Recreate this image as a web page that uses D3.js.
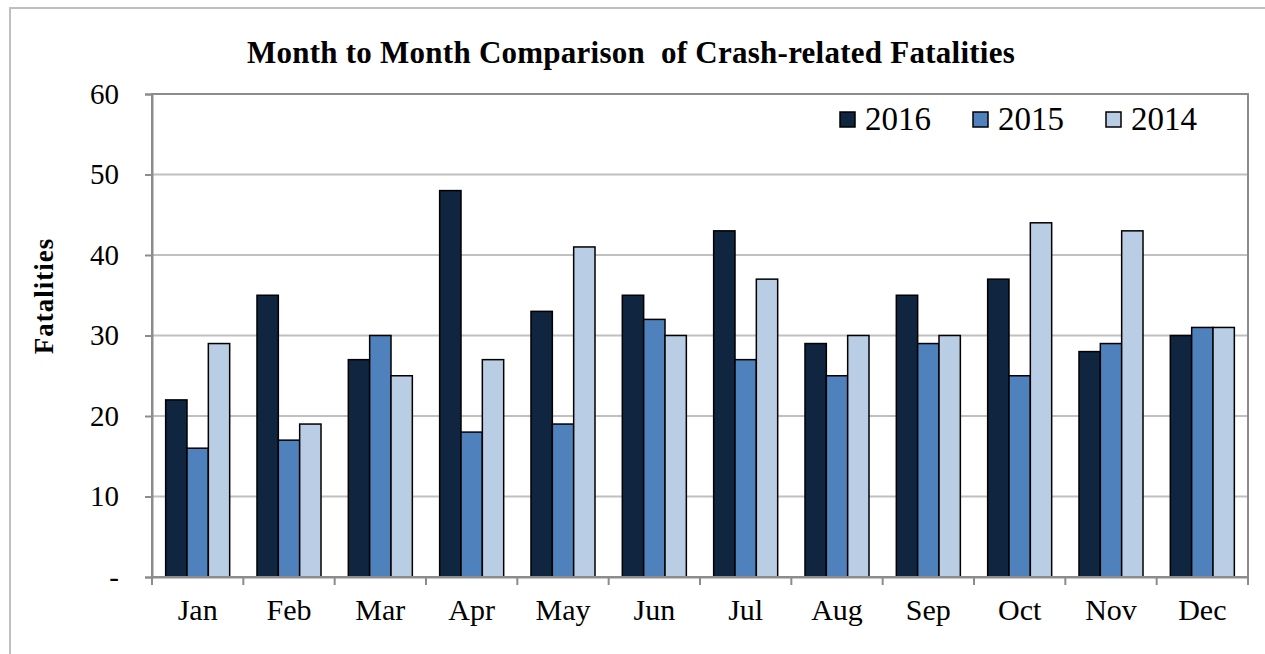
<!DOCTYPE html>
<html>
<head>
<meta charset="utf-8">
<script src="https://cdn.jsdelivr.net/npm/d3@7"></script>
<style>
  body { margin: 0; background: #fff; }
  text { font-family: "Liberation Serif", "Times New Roman", serif; }
</style>
</head>
<body>
<script>
// data
const months = ["Jan", "Feb", "Mar", "Apr", "May", "Jun", "Jul", "Aug", "Sep", "Oct", "Nov", "Dec"];
const years = ["2016", "2015", "2014"];
const fat2016 = [22, 35, 27, 48, 33, 35, 43, 29, 35, 37, 28, 30];
const fat2015 = [16, 17, 30, 18, 19, 32, 27, 25, 29, 25, 29, 31];
const fat2014 = [29, 19, 25, 27, 41, 30, 37, 30, 30, 44, 43, 31];
const yTicks = [0, 10, 20, 30, 40, 50, 60];

const colors = { "2016": "#10253f", "2015": "#4f81bd", "2014": "#b9cde5" };

let margin = null, width = null, height = null;
let svg = null, plot = null;
let x, xs, y = null;

main();

function main() {
  setupCanvasSize();
  appendSvg("body");
  setupScales();
  appendGrid();
  appendBars();
  appendAxes();
  addTitle();
  addLegend();
}

function setupCanvasSize() {
  margin = { top: 94, left: 152, bottom: 77, right: 17 };
  width = 1265 - margin.left - margin.right;
  height = 654 - margin.top - margin.bottom;
}

function appendSvg(domElement) {
  svg = d3.select(domElement).append("svg")
    .attr("width", 1265)
    .attr("height", 654);

  // outer chart border, runs off the right and bottom edge
  svg.append("rect")
    .attr("x", 10).attr("y", 8)
    .attr("width", 1300).attr("height", 700)
    .attr("fill", "none")
    .attr("stroke", "#bfbfbf")
    .attr("stroke-width", 2);

  plot = svg.append("g")
    .attr("transform", `translate(${margin.left}, ${margin.top})`);
}

function setupScales() {
  x = d3.scaleBand().domain(months).range([0, width]);
  xs = d3.scaleBand().domain(years).range([0, x.bandwidth()]).paddingOuter(0.64);
  y = d3.scaleLinear().domain([0, 60]).range([height, 0]);
}

function appendGrid() {
  plot.append("g")
    .selectAll("line")
    .data(yTicks.slice(1, -1))
    .enter().append("line")
    .attr("x1", 0).attr("x2", width)
    .attr("y1", d => y(d)).attr("y2", d => y(d))
    .attr("stroke", "#c0c0c0")
    .attr("stroke-width", 2);
}

function appendBars() {
  const rows = months.map((m, i) => ({
    month: m,
    values: [
      { year: "2016", v: fat2016[i] },
      { year: "2015", v: fat2015[i] },
      { year: "2014", v: fat2014[i] }
    ]
  }));

  plot.append("g")
    .selectAll("g")
    .data(rows)
    .enter().append("g")
    .attr("transform", d => `translate(${x(d.month)}, 0)`)
    .selectAll("rect")
    .data(d => d.values)
    .enter().append("rect")
    .attr("x", d => xs(d.year))
    .attr("y", d => y(d.v))
    .attr("width", xs.bandwidth())
    .attr("height", d => height - y(d.v))
    .attr("fill", d => colors[d.year])
    .attr("stroke", "#000")
    .attr("stroke-width", 1.5);
}

function appendAxes() {
  // plot frame: top and right
  plot.append("rect")
    .attr("width", width).attr("height", height)
    .attr("fill", "none")
    .attr("stroke", "#8c8c8c")
    .attr("stroke-width", 2);

  const yAxis = plot.append("g")
    .call(d3.axisLeft(y)
      .tickValues(yTicks)
      .tickSize(7)
      .tickPadding(26)
      .tickFormat(d => d === 0 ? "-" : d));
  yAxis.select(".domain").attr("stroke", "#8c8c8c").attr("stroke-width", 2);
  yAxis.selectAll(".tick line").attr("stroke", "#8c8c8c").attr("stroke-width", 2);
  yAxis.selectAll(".tick text")
    .attr("fill", "#000")
    .style("font-size", "29px")
    .style("font-family", "'Liberation Serif', serif");

  const xAxis = plot.append("g")
    .attr("transform", `translate(0, ${height})`)
    .call(d3.axisBottom(x).tickSize(0).tickPadding(22));
  xAxis.select(".domain").attr("stroke", "#8c8c8c").attr("stroke-width", 2);
  xAxis.selectAll(".tick text")
    .attr("fill", "#000")
    .style("font-size", "30px")
    .style("font-family", "'Liberation Serif', serif");

  // category separators below the axis
  plot.append("g")
    .selectAll("line")
    .data(months.concat(["end"]))
    .enter().append("line")
    .attr("x1", (d, i) => i * x.step()).attr("x2", (d, i) => i * x.step())
    .attr("y1", height).attr("y2", height + 8)
    .attr("stroke", "#8c8c8c")
    .attr("stroke-width", 2);

  svg.append("text")
    .attr("transform", "translate(53, 296) rotate(-90)")
    .attr("text-anchor", "middle")
    .style("font-size", "27px")
    .style("font-weight", "bold")
    .style("letter-spacing", "1px")
    .text("Fatalities");
}

function addTitle() {
  svg.append("text")
    .attr("x", 631)
    .attr("y", 63)
    .attr("text-anchor", "middle")
    .style("font-size", "31px")
    .style("font-weight", "bold")
    .style("letter-spacing", "0.25px")
    .style("white-space", "pre")
    .text("Month to Month Comparison  of Crash-related Fatalities");
}

function addLegend() {
  const legend = svg.append("g")
    .selectAll("g")
    .data(years)
    .enter().append("g")
    .attr("transform", (d, i) => `translate(${840 + i * 133}, 0)`);

  legend.append("rect")
    .attr("x", 0).attr("y", 112)
    .attr("width", 15).attr("height", 15)
    .attr("fill", d => colors[d])
    .attr("stroke", "#000")
    .attr("stroke-width", 1.5);

  legend.append("text")
    .attr("x", 25)
    .attr("y", 130)
    .style("font-size", "33px")
    .text(d => d);
}
</script>
</body>
</html>
